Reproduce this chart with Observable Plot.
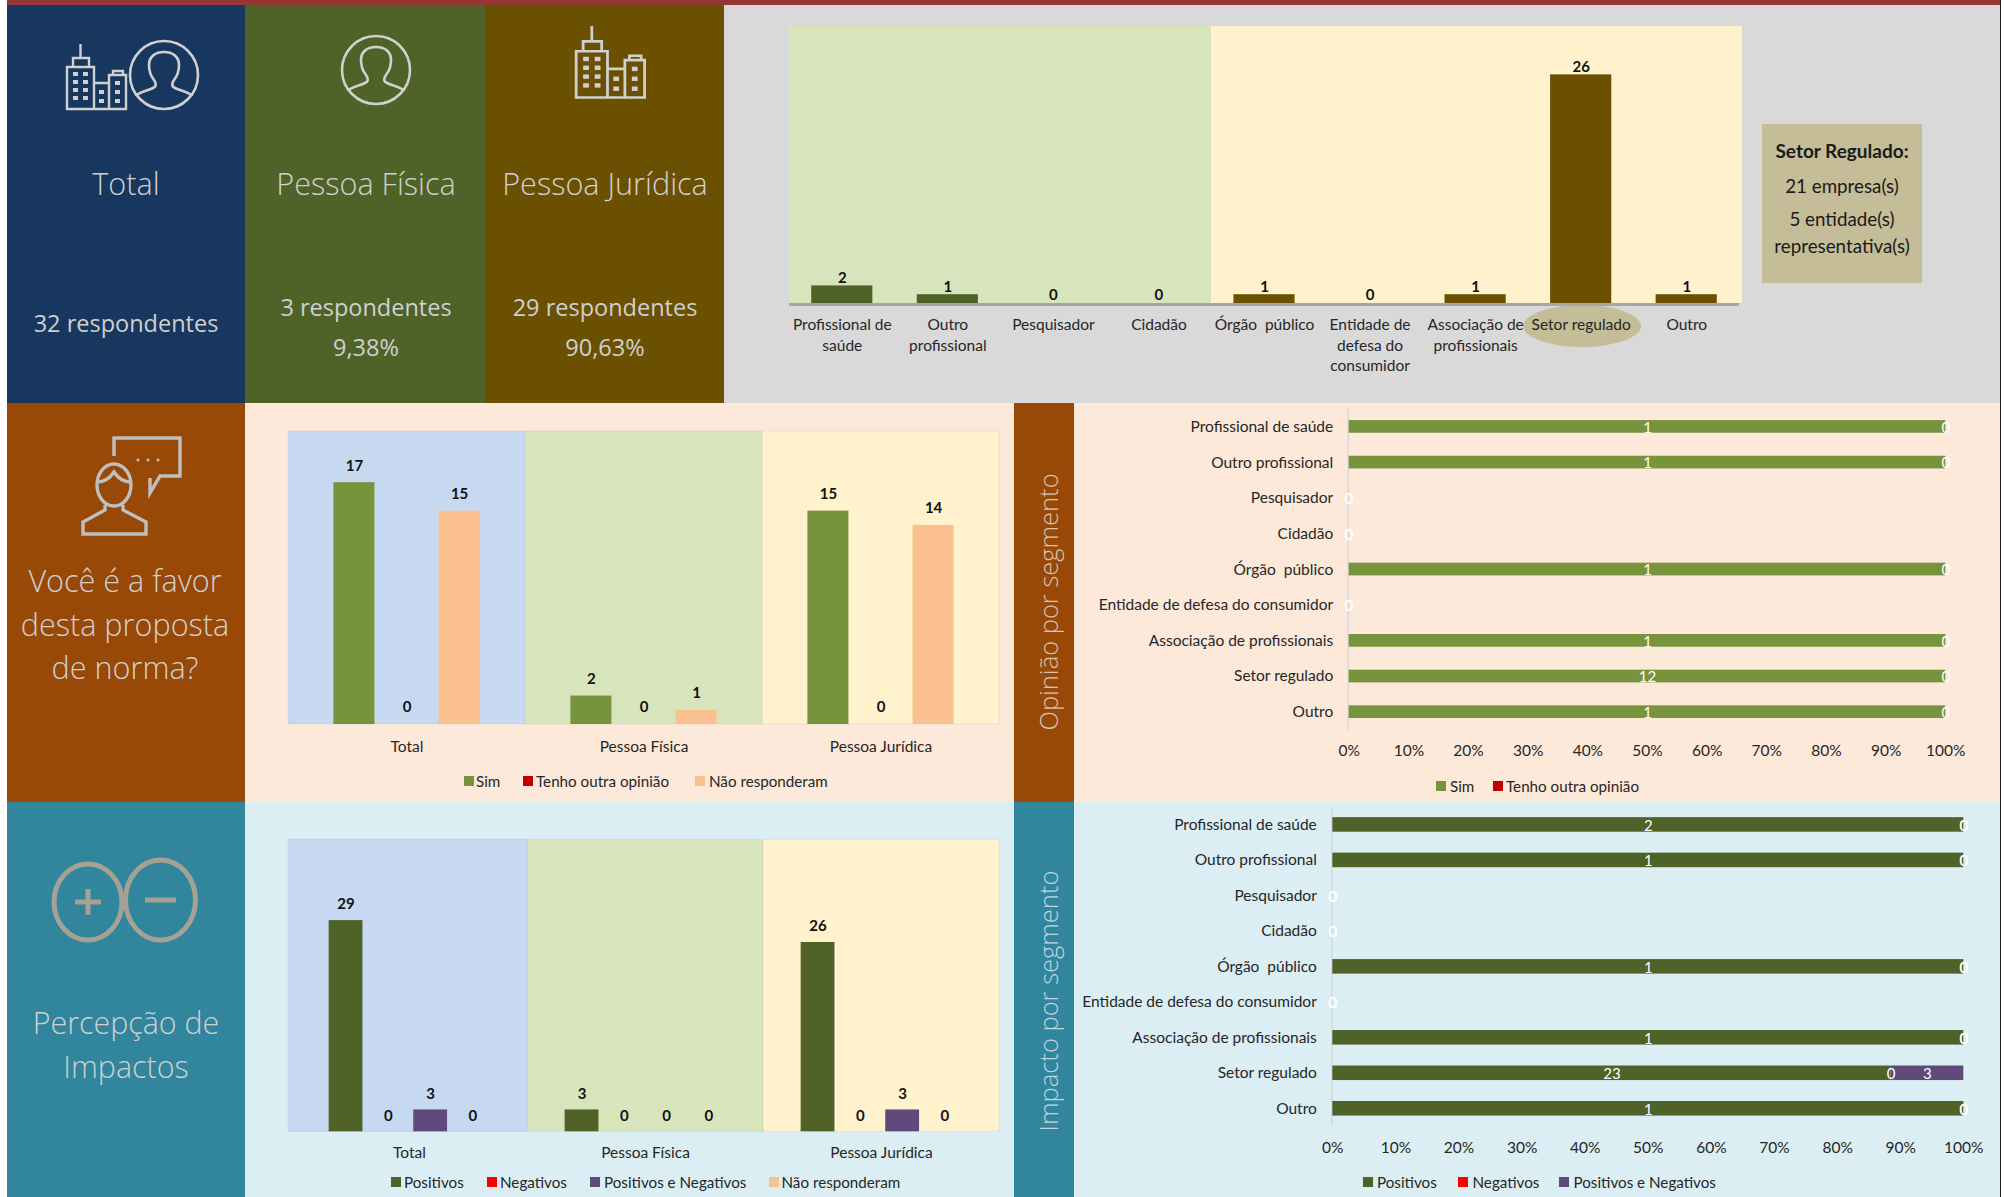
<!DOCTYPE html>
<html lang="pt">
<head>
<meta charset="utf-8">
<title>Painel de respondentes</title>
<script src="https://cdn.jsdelivr.net/npm/d3@7"></script>
<script src="https://cdn.jsdelivr.net/npm/@observablehq/plot@0.6"></script>
<style>
  html,body{margin:0;padding:0;background:#fff;width:2004px;height:1197px;overflow:hidden}
  #page{position:relative;width:2004px;height:1197px;overflow:hidden;font-family:Lato,sans-serif}
  .p{position:absolute}
  .t{position:absolute;transform:translate(-50%,-50%);white-space:nowrap;font-family:"Open Sans",sans-serif;font-weight:300;color:#D0D0D0}
  .lg{position:absolute;transform:translateY(-50%);white-space:nowrap;font:15.2px Lato,sans-serif;color:#262626}
  .sw{position:absolute;width:10px;height:10px;transform:translateY(-50%)}
  .ic{position:absolute;overflow:visible;fill:none}
</style>
</head>
<body>
<div id="page"></div>
<script>
// ---------- data ----------
const segments = ["Profissional de saúde","Outro profissional","Pesquisador","Cidadão","Órgão  público","Entidade de defesa do consumidor","Associação de profissionais","Setor regulado","Outro"];
const segmentTickLabels = ["Profissional de\nsaúde","Outro\nprofissional","Pesquisador","Cidadão","Órgão  público","Entidade de\ndefesa do\nconsumidor","Associação de\nprofissionais","Setor regulado","Outro"];
const segmentCounts = [2,1,0,0,1,0,1,26,1];
const segmentGroupColors = ["#D8E4BC","#D8E4BC","#D8E4BC","#D8E4BC","#FFF2CC","#FFF2CC","#FFF2CC","#FFF2CC","#FFF2CC"];
const segmentBarColors = ["#4F6228","#4F6228","#4F6228","#4F6228","#6A5000","#6A5000","#6A5000","#6A5000","#6A5000"];

const groups = ["Total","Pessoa Física","Pessoa Jurídica"];
const groupColors = ["#C6D9F1","#D8E4BC","#FFF2CC"];

const opinionSeries = ["Sim","Tenho outra opinião","Não responderam"];
const opinionColors = ["#77933C","#C00000","#FAC090"];
const opinionSim = [17,2,15];
const opinionOutra = [0,0,0];
const opinionNao = [15,1,14];

const impactSeries = ["Positivos","Negativos","Positivos e Negativos","Não responderam"];
const impactColors = ["#4F6228","#FF0000","#604A7B","#FAC090"];
const impactPos = [29,3,26];
const impactNeg = [0,0,0];
const impactBoth = [3,0,3];
const impactNao = [0,0,0];

const segSim = [1,1,0,0,1,0,1,12,1];
const segOutra = [0,0,0,0,0,0,0,0,0];
const segPos = [2,1,0,0,1,0,1,23,1];
const segNeg = [0,0,0,0,0,0,0,0,0];
const segBoth = [0,0,0,0,0,0,0,3,0];

// ---------- helpers ----------
const page = document.getElementById("page");
function box(x,y,w,h,c,extra){const d=document.createElement("div");d.className="p";d.style.cssText=`left:${x}px;top:${y}px;width:${w}px;height:${h}px;background:${c};${extra||""}`;page.appendChild(d);return d;}
function txt(s,x,y,size,extra){const d=document.createElement("div");d.className="t";d.textContent=s;d.style.cssText=`left:${x}px;top:${y}px;font-size:${size}px;${extra||""}`;page.appendChild(d);return d;}
function legend(y,items){for(const [name,color,sx,tx] of items){
  const s=document.createElement("div");s.className="sw";s.style.cssText=`left:${sx}px;top:${y}px;background:${color}`;page.appendChild(s);
  const t=document.createElement("div");t.className="lg";t.textContent=name;t.style.cssText=`left:${tx}px;top:${y}px`;page.appendChild(t);}}
function place(chart,x,y){chart.style.position="absolute";chart.style.left=x+"px";chart.style.top=y+"px";page.appendChild(chart);}
const plotStyle={background:"transparent",overflow:"visible",maxWidth:"none",fontFamily:"Lato, sans-serif",fontSize:"15px",color:"#262626"};

// ---------- panels ----------
box(7,0,1992.5,4.5,"#953735");
box(7,4.5,238,398.5,"#17375E");box(245,4.5,240,398.5,"#4F6228");box(485,4.5,239,398.5,"#6A5000");box(724,4.5,1275.5,398.5,"#D9D9D9");
box(7,403,238,399,"#984807");box(245,403,769,399,"#FDE9D9");box(1014,403,59.5,399,"#984807");box(1073.5,403,926,399,"#FDE9D9");
box(7,802,238,395,"#31859C");box(245,802,769,395,"#DBEEF4");box(1014,802,59.5,395,"#31859C");box(1073.5,802,926,395,"#DBEEF4");
box(1999.5,0,1.6,1197,"#222");

// ---------- icons ----------
const city=(x,y,sx,sy)=>`<svg class="ic" style="left:${x}px;top:${y}px" width="${61*sx}" height="${66*sy}" viewBox="0 0 61 66" preserveAspectRatio="none" stroke="#D0D0D0" stroke-width="2.4">
<path d="M14.5 0V14M7 23V14H23V23M1 23H28V65H1ZM28 39H43V65H28ZM43 31H60V65H43ZM47 31V27H57V31"/>
<g fill="#D0D0D0" stroke="none"><rect x="7" y="28" width="5" height="4"/><rect x="17" y="28" width="5" height="4"/><rect x="7" y="36" width="5" height="4"/><rect x="17" y="36" width="5" height="4"/><rect x="7" y="44" width="5" height="4"/><rect x="17" y="44" width="5" height="4"/><rect x="7" y="52" width="5" height="4"/><rect x="17" y="52" width="5" height="4"/><rect x="33" y="46" width="5" height="4"/><rect x="33" y="55" width="5" height="4"/><rect x="49" y="37" width="5" height="4"/><rect x="49" y="46" width="5" height="4"/><rect x="49" y="55" width="5" height="4"/></g></svg>`;
const person=(cx,cy)=>`<svg class="ic" style="left:${cx-36}px;top:${cy-36}px" width="72" height="72" viewBox="-36 -36 72 72" stroke="#D0D0D0" stroke-width="2.6">
<circle r="34"/><path d="M-28 21C-26 17 -17 16 -11 13C-7 11 -8 8 -10 5C-14 0 -15 -5 -15 -10C-15 -19 -8 -23 0 -23C8 -23 15 -19 15 -10C15 -5 14 0 10 5C8 8 7 11 11 13C17 16 26 17 28 21"/></svg>`;
const icons=document.createElement("div");
icons.innerHTML = city(66,44,1,1)+person(163.5,75)+person(376,70)+city(575,26,1.16,1.1)+
`<svg class="ic" style="left:0;top:0" width="300" height="1197" stroke="#BFBFBF" stroke-width="3.4">
<path d="M114 456V438H180V476H160L150 493V478"/>
<g fill="#BFBFBF" stroke="none"><circle cx="138" cy="460" r="1.6"/><circle cx="148" cy="460" r="1.6"/><circle cx="158" cy="460" r="1.6"/></g>
<ellipse cx="114" cy="485" rx="17" ry="21"/><path d="M97 482C105 482 110 478 114 472C118 478 123 482 131 482M105 505V510L83 522V534H146V522L123 510V505"/></svg>
<svg class="ic" style="left:0;top:0" width="300" height="1197" stroke="#A6A195" stroke-width="5">
<ellipse cx="88" cy="902" rx="34" ry="38"/><ellipse cx="160.5" cy="900" rx="35" ry="40"/>
<path d="M75 902H101M88 889V915M145 900H176"/></svg>`;
page.appendChild(icons);

// ---------- side titles ----------
txt("Total",126,183,30.6);txt("Pessoa Física",366,183,30.6);txt("Pessoa Jurídica",605,183,30.6);
const rs="font-weight:400;";
txt("32 respondentes",126,323,23.5,rs);txt("3 respondentes",366,306.5,23.5,rs);txt("9,38%",366,347,23.5,rs);
txt("29 respondentes",605,306.5,23.5,rs);txt("90,63%",605,347,23.5,rs);
txt("Você é a favor",125,580,30.6);txt("desta proposta",125,623.5,30.6);txt("de norma?",125,667,30.6);
txt("Percepção de",126,1022,30.4);txt("Impactos",126,1066,30.4);
txt("Opinião por segmento",1048,602,25.5,"transform:translate(-50%,-50%) rotate(-90deg);color:#D9C2AE");
txt("Impacto por segmento",1048,1001,25.5,"transform:translate(-50%,-50%) rotate(-90deg);color:#BFD5DC");

// ---------- ellipse + call-out behind the top chart ----------
box(1522.5,305,118,42,"#C4BD97","border-radius:50%");
box(1762,124,160,159,"#C4BD97");
const cs="font-family:Lato,sans-serif;font-weight:400;color:#1a1a1a;";
txt("Setor Regulado:",1842,150,19,cs+"font-weight:700");
txt("21 empresa(s)",1842,185,18.8,cs);txt("5 entidade(s)",1842,218,18.8,cs);txt("representativa(s)",1842,245,18.8,cs);

// ---------- top column chart ----------
const segRows=segments.map((s,i)=>({s,v:segmentCounts[i],bg:segmentGroupColors[i],c:segmentBarColors[i]}));
const tickLab=new Map(segments.map((s,i)=>[s,segmentTickLabels[i]]));
place(Plot.plot({
  width:1000,height:397,marginLeft:29,marginRight:21,marginTop:20,marginBottom:100,style:plotStyle,
  x:{domain:segments,paddingInner:0,paddingOuter:0,round:false,axis:null},
  y:{domain:[0,31.5],axis:null},color:{type:"identity"},
  marks:[
    Plot.barY(segRows.slice(0,8),{x:"s",y:()=>31.5,fill:"bg",shapeRendering:"crispEdges"}),
    Plot.barY(segRows.slice(8),{x:"s",y:()=>31.5,fill:"bg",insetRight:-2.5,shapeRendering:"crispEdges"}),
    Plot.barY(segRows,{x:"s",y:"v",fill:"c",insetLeft:22.2,insetRight:22.2}),
    Plot.ruleY([0],{stroke:"#A6A6A6",strokeWidth:3,dy:1}),
    Plot.text(segRows,{x:"s",y:"v",text:"v",dy:-8,fontSize:15,fontWeight:700,fill:"#111"}),
    Plot.axisX({anchor:"bottom",tickSize:0,tickPadding:12,label:null,lineHeight:1.33,fontSize:15.5,fill:"#262626",lineAnchor:"top",tickFormat:d=>tickLab.get(d)})
  ]}),760,6);

// ---------- grouped column charts ----------
function columns({series,colors,arrays,maxY,left,top,w,h,ml,mr,mt,mb,pi,po,tp,dy}){
  const rows=[];arrays.forEach((arr,k)=>arr.forEach((v,g)=>rows.push({g:groups[g],s:series[k],v,c:colors[k]})));
  const bgs=groups.map((g,i)=>({g,c:groupColors[i]}));
  place(Plot.plot({
    width:w,height:h,marginLeft:ml,marginRight:mr,marginTop:mt,marginBottom:mb,style:plotStyle,
    fx:{domain:groups,padding:0,round:false,label:null,axis:null},
    x:{domain:series,paddingInner:pi,paddingOuter:po,round:false,axis:null},
    y:{domain:[0,maxY],axis:null},color:{type:"identity"},
    marks:[
      Plot.barY(bgs,{fx:"g",y:()=>maxY,fill:"c",stroke:"#BFBFBF",strokeWidth:0.6,strokeDasharray:"1,1"}),
      ...(ml===21?[Plot.barY(bgs.slice(0,1),{fx:"g",y:()=>maxY,fill:"c",insetLeft:-3,stroke:"#BFBFBF",strokeWidth:0.6,strokeDasharray:"1,1"})]:[]),
      Plot.barY(rows,{fx:"g",x:"s",y:"v",fill:"c"}),
      Plot.text(rows,{fx:"g",x:"s",y:"v",text:"v",dy,fontSize:15,fontWeight:700,fill:"#111"}),
      Plot.axisFx({anchor:"bottom",tickSize:0,tickPadding:tp,label:null,fontSize:15.5,fill:"#262626"})
    ]}),left,top);
}
columns({series:opinionSeries,colors:opinionColors,arrays:[opinionSim,opinionOutra,opinionNao],maxY:20.6,left:270,top:410,w:745,h:385,ml:18,mr:16,mt:21,mb:71,pi:.22,po:.863,tp:16,dy:-17});
columns({series:impactSeries,colors:impactColors,arrays:[impactPos,impactNeg,impactBoth,impactNao],maxY:40.1,left:270,top:810,w:745,h:365,ml:21,mr:16,mt:29.3,mb:43.7,pi:.2,po:.89,tp:15.5,dy:-16});

// ---------- 100% stacked bars ----------
function stacked({series,colors,arrays,left,top,w,h,ml,mr,mt,mb,pad}){
  const rows=[];
  segments.forEach((cat,i)=>{
    const total=d3.sum(arrays,a=>a[i]);let acc=0;
    arrays.forEach((a,k)=>{const share=total?a[i]/total:0;rows.push({cat,s:series[k],v:a[i],x1:acc,x2:acc+share,c:colors[k]});acc+=share;});
  });
  place(Plot.plot({
    width:w,height:h,marginLeft:ml,marginRight:mr,marginTop:mt,marginBottom:mb,style:plotStyle,
    x:{domain:[0,1],axis:null},y:{domain:segments,paddingInner:pad,paddingOuter:pad/2,round:false,axis:null},color:{type:"identity"},
    marks:[
      Plot.ruleX([0],{stroke:"#D9D9D9",strokeWidth:1.5,dx:-1}),
      Plot.barX(rows,{x1:"x1",x2:"x2",y:"cat",fill:"c"}),
      Plot.text(rows,{x:d=>(d.x1+d.x2)/2,y:"cat",text:"v",dy:1,fontSize:15,fill:"#fff"}),
      Plot.axisY({anchor:"left",tickSize:0,tickPadding:16,label:null,fontSize:15.5,fill:"#262626"}),
      Plot.axisX({anchor:"bottom",ticks:d3.range(0,11).map(d=>d/10),tickFormat:d=>Math.round(d*100)+"%",tickSize:0,tickPadding:15,label:null,fontSize:15.5,fill:"#262626"})
    ]}),left,top);
}
stacked({series:opinionSeries.slice(0,2),colors:opinionColors.slice(0,2),arrays:[segSim,segOutra],left:1075,top:405,w:925,h:360,ml:273.7,mr:54.7,mt:3.6,mb:35.5,pad:.644});
stacked({series:impactSeries.slice(0,3),colors:impactColors.slice(0,3),arrays:[segPos,segNeg,segBoth],left:1075,top:803,w:925,h:360,ml:257.3,mr:36.7,mt:3.7,mb:37,pad:.59});

// ---------- legends ----------
legend(781,[["Sim",opinionColors[0],464,476],["Tenho outra opinião",opinionColors[1],523,536],["Não responderam",opinionColors[2],695,709]]);
legend(786,[["Sim",opinionColors[0],1436,1450],["Tenho outra opinião",opinionColors[1],1493,1506]]);
legend(1182,[["Positivos",impactColors[0],391,404],["Negativos",impactColors[1],487,500],["Positivos e Negativos",impactColors[2],589.5,604],["Não responderam",impactColors[3],769,781.5]]);
legend(1182,[["Positivos",impactColors[0],1363,1377],["Negativos",impactColors[1],1458,1472.5],["Positivos e Negativos",impactColors[2],1559,1573.5]]);
</script>
</body>
</html>
